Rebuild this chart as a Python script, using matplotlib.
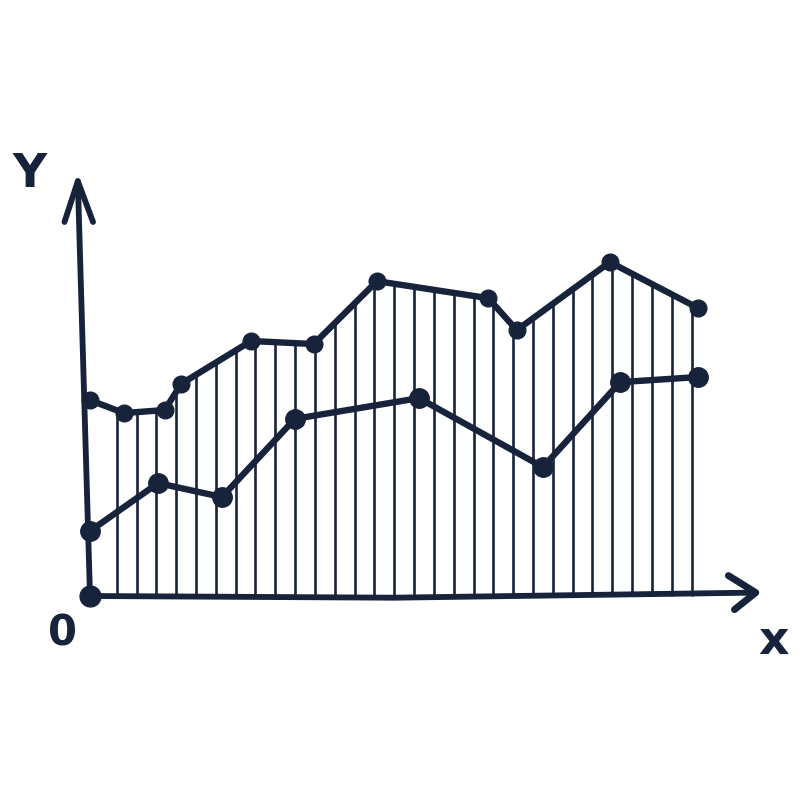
"""Grafico tipo boceto: dos series con rayado vertical bajo la curva superior."""

import numpy as np
import matplotlib
matplotlib.use("Agg")
import matplotlib.pyplot as plt

# Serie superior (contorno del area rayada)
upper_x = [0.0, 0.56, 1.23, 1.50, 2.65, 3.68, 4.72, 6.55, 7.02, 8.55, 10.0]
upper_y = [5.76, 5.38, 5.47, 6.24, 7.50, 7.41, 9.26, 8.76, 7.82, 9.82, 8.47]

# Serie inferior
lower_x = [0.0, 1.12, 2.17, 3.37, 5.41, 7.45, 8.72, 10.0]
lower_y = [1.91, 3.32, 2.91, 5.21, 5.82, 3.79, 6.29, 6.44]

axis_labels = ["Y", "0", "x"]

INK = "#17223b"

fig = plt.figure(figsize=(8, 8), dpi=100)
# origen en (90, 596) px, 1 unidad = 60.8 px en x y 34 px en y
ax = fig.add_axes([0.1125, 0.255, 0.76, 0.425])
ax.set_xlim(0, 10)
ax.set_ylim(0, 10)
ax.axis("off")

# rayado vertical hasta la curva superior
hatch_x = np.arange(0.44, 10.0, 0.326)
hatch_top = np.interp(hatch_x, upper_x, upper_y)
ax.vlines(hatch_x, 0, hatch_top, color=INK, lw=1.9, clip_on=False)

# ejes dibujados a mano
ax.plot([0, -0.2], [0, 12.2], color=INK, lw=4.2, clip_on=False,
        solid_capstyle="round")
ax.plot([0, 5, 10.95], [0, -0.05, 0.1], color=INK, lw=4.2, clip_on=False,
        solid_capstyle="round")
# puntas de flecha abiertas
ax.plot([-0.42, -0.2, 0.05], [11.0, 12.2, 11.0], color=INK, lw=4.2,
        clip_on=False, solid_capstyle="round", solid_joinstyle="round")
ax.plot([10.5, 10.95, 10.6], [0.6, 0.1, -0.4], color=INK, lw=5.0,
        clip_on=False, solid_capstyle="round", solid_joinstyle="round")

# series
ax.plot(upper_x, upper_y, color=INK, lw=4.6, marker="o", ms=12,
        clip_on=False, solid_joinstyle="round")
ax.plot(lower_x, lower_y, color=INK, lw=4.6, marker="o", ms=14,
        clip_on=False, solid_joinstyle="round")
ax.plot([0], [0], "o", color=INK, ms=15, clip_on=False)

# etiquetas
ax.text(-1.0, 12.4, axis_labels[0], color=INK, fontsize=34,
        ha="center", va="center", clip_on=False, fontweight="bold")
ax.text(-0.45, -1.1, axis_labels[1], color=INK, fontsize=30,
        ha="center", va="center", clip_on=False, fontweight="bold")
ax.text(11.25, -1.35, axis_labels[2], color=INK, fontsize=34,
        ha="center", va="center", clip_on=False, fontweight="bold")

fig.savefig("out.png", dpi=100, facecolor="white")
